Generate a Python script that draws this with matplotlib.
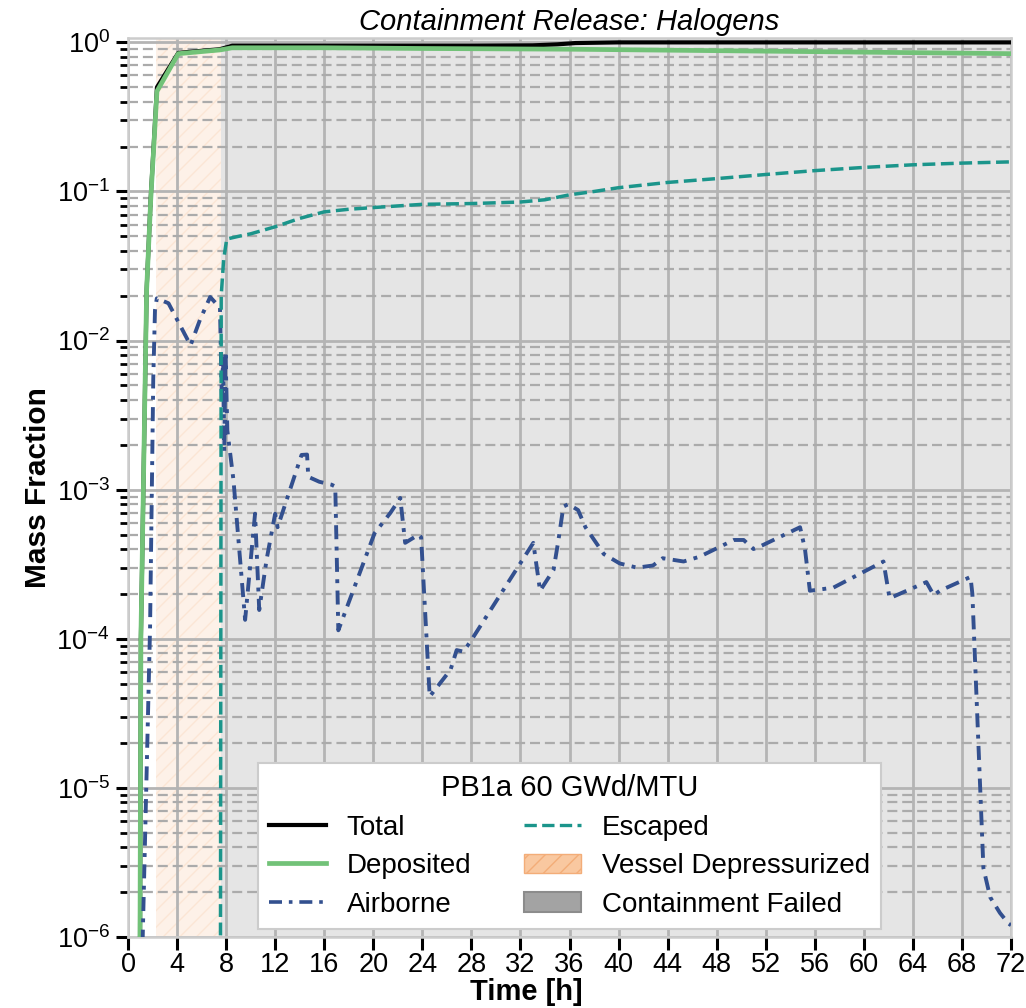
import numpy as np
import matplotlib
matplotlib.use("Agg")
import matplotlib.pyplot as plt
from matplotlib.lines import Line2D
from matplotlib.patches import Patch
from matplotlib.ticker import LogLocator, MultipleLocator, NullFormatter

plt.rcParams['font.family'] = ['Liberation Sans', 'DejaVu Sans']
plt.rcParams['mathtext.default'] = 'regular'
plt.rcParams['hatch.linewidth'] = 1.0

# time in hours, mass fractions
t_total = [0.0, 0.98, 1.05, 1.52, 1.85, 2.36, 4.1, 7.5, 8.5, 12, 20, 28, 33, 35, 36.5, 40, 48, 56, 64, 72]
v_total = [1e-9, 1e-6, 1e-4, 0.022, 0.09, 0.50, 0.85, 0.90, 0.95, 0.95, 0.95, 0.95, 0.955, 0.97, 0.99, 1.0, 1.0, 1.0, 1.0, 1.0]

t_dep = [0.0, 0.98, 1.05, 1.52, 1.85, 2.36, 4.1, 7.5, 8.5, 16, 24, 36, 48, 60, 72]
v_dep = [1e-9, 1e-6, 1e-4, 0.022, 0.087, 0.47, 0.84, 0.89, 0.92, 0.92, 0.91, 0.90, 0.88, 0.86, 0.84]

t_esc = [0.0, 7.5, 7.6, 7.8, 8.05, 9, 10, 12, 14, 16, 18, 20, 22, 24, 28, 32, 34, 36, 38, 40,
         44, 48, 52, 56, 60, 64, 68, 72]
v_esc = [1e-12, 1e-9, 0.02, 0.035, 0.048, 0.05, 0.052, 0.058, 0.066, 0.073, 0.076, 0.078, 0.080, 0.082,
         0.083, 0.085, 0.088, 0.095, 0.10, 0.106, 0.115, 0.122, 0.130, 0.138, 0.145, 0.151, 0.155, 0.158]

# airborne fraction as (time, value) pairs
airborne = [
    (0.0, 1e-12), (1.0, 1e-7), (1.2, 1e-6), (1.8, 1.2e-4), (2.06, 5.5e-3), (2.2, 0.016),
    (2.35, 0.0192), (3.3, 0.0178), (5.1, 0.0093), (5.87, 0.0138), (6.7, 0.0196), (7.5, 0.0166),
    (7.65, 0.004), (7.75, 0.008), (7.85, 0.0018), (7.95, 0.0085), (8.1, 0.0025), (8.6, 1.16e-3),
    (9.55, 1.34e-4), (10.36, 6.9e-4), (10.7, 1.56e-4), (11.3, 3.4e-4), (12.0, 6.9e-4), (12.2, 5.6e-4),
    (14.15, 1.71e-3), (14.6, 1.72e-3), (14.7, 1.22e-3), (15.6, 1.13e-3), (16.6, 1.08e-3),
    (16.9, 1.05e-3), (17.15, 1.14e-4), (20.1, 5.1e-4), (21.4, 7.0e-4), (22.2, 8.8e-4),
    (22.6, 4.4e-4), (23.7, 5.0e-4), (23.9, 4.8e-4), (24.6, 4.1e-5), (26.3, 6.2e-5), (26.8, 8.4e-5),
    (27.35, 8.2e-5), (28.0, 9.8e-5), (33.05, 4.4e-4), (33.6, 2.1e-4), (34.7, 2.9e-4), (35.1, 4.6e-4),
    (35.5, 7.7e-4), (35.9, 8.0e-4), (36.7, 7.3e-4), (37.3, 5.6e-4), (38.8, 3.7e-4), (40.1, 3.2e-4),
    (41.5, 3.0e-4), (42.8, 3.1e-4), (43.6, 3.47e-4), (45.3, 3.3e-4), (46.6, 3.55e-4), (49.4, 4.6e-4),
    (50.2, 4.6e-4), (51.0, 4.0e-4), (51.5, 4.15e-4), (54.8, 5.6e-4), (55.2, 4.0e-4), (55.6, 2.1e-4),
    (57.5, 2.2e-4), (61.6, 3.3e-4), (62.1, 1.87e-4), (65.1, 2.4e-4), (65.7, 1.96e-4), (66.2, 2.1e-4),
    (68.7, 2.6e-4), (68.85, 2.0e-4), (69.75, 2.9e-6), (70.3, 1.85e-6), (71.1, 1.45e-6),
    (71.8, 1.23e-6), (72.0, 1.2e-6),
]
t_air = [p[0] for p in airborne]
v_air = [p[1] for p in airborne]

t_depress = 2.3
t_fail = 7.55
t_end = 72

c_total = '#000000'
c_dep = '#72c278'
c_esc = '#1b958b'
c_air = '#33508f'
dashdot = (0, (3.6, 1.9, 1.0, 1.9))

fig = plt.figure(figsize=(10.26, 10.08), dpi=100)
ax = fig.add_axes([128 / 1026, 1 - 937 / 1008, 883 / 1026, 899 / 1008])

ax.axvspan(t_depress, t_fail, facecolor='#f4a261', alpha=0.14, edgecolor='#f4a261', hatch='//', lw=0, zorder=0)
ax.axvspan(t_fail, t_end, facecolor='#808080', alpha=0.2, lw=0, zorder=0)

ax.plot(t_total, v_total, color=c_total, lw=3.0, zorder=3)
ax.plot(t_dep, v_dep, color=c_dep, lw=3.4, zorder=4)
ax.plot(t_air, v_air, color=c_air, lw=2.8, ls=dashdot, zorder=5)
ax.plot(t_esc, v_esc, color=c_esc, lw=2.5, ls='--', zorder=5)

ax.set_yscale('log')
ax.set_ylim(1e-6, 1.07)
ax.set_xlim(0, 72)
ax.xaxis.set_major_locator(MultipleLocator(4))
ax.yaxis.set_major_locator(LogLocator(base=10, numticks=10))
ax.yaxis.set_minor_locator(LogLocator(base=10, subs=np.arange(2, 10), numticks=20))
ax.yaxis.set_minor_formatter(NullFormatter())

ax.grid(True, which='major', color='#b4b4b4', lw=2.0, ls='-', zorder=1)
ax.grid(True, which='minor', axis='y', color='#ababab', lw=1.6, ls=(0, (4.5, 2.2)), zorder=1)
ax.set_axisbelow(True)

for sp in ax.spines.values():
    sp.set_color('#cccccc')
    sp.set_linewidth(1.8)

ax.tick_params(axis='both', which='major', labelsize=19.5, length=9, width=2.2, color='black', pad=4)
ax.tick_params(axis='x', which='major', pad=2)
ax.tick_params(axis='y', which='minor', length=6, width=2.0, color='black')

ax.set_title('Containment Release: Halogens', fontsize=21, style='italic', pad=6)
ax.set_xlabel('Time [h]', fontsize=21, fontweight='bold')
ax.xaxis.set_label_coords(0.451, -0.0705, transform=ax.transAxes)
ax.xaxis.label.set_va('baseline')
ax.set_ylabel('Mass Fraction', fontsize=21.5, fontweight='bold', labelpad=3)

handles = [
    Line2D([], [], color=c_total, lw=3.0),
    Line2D([], [], color=c_dep, lw=3.4),
    Line2D([], [], color=c_air, lw=2.6, ls=dashdot),
    Line2D([], [], color=c_esc, lw=2.4, ls='--'),
    Patch(facecolor='#f9c8a0', edgecolor='#f3ad78', hatch='//', lw=1.0),
    Patch(facecolor='#a3a3a3', edgecolor='#8c8c8c', lw=1.5),
]
labels = ['Total', 'Deposited', 'Airborne', 'Escaped', 'Vessel Depressurized', 'Containment Failed']
leg = ax.legend(handles, labels, loc='lower center', ncol=2, fontsize=20, title='PB1a 60 GWd/MTU',
                title_fontsize=21, frameon=True, fancybox=False, framealpha=1.0, edgecolor='#cccccc',
                borderaxespad=0.3, handlelength=2.05, columnspacing=1.9, handletextpad=0.75,
                labelspacing=0.45, borderpad=0.4)
leg.get_frame().set_linewidth(1.5)
leg.set_zorder(10)

fig.savefig('out.png', dpi=100)
